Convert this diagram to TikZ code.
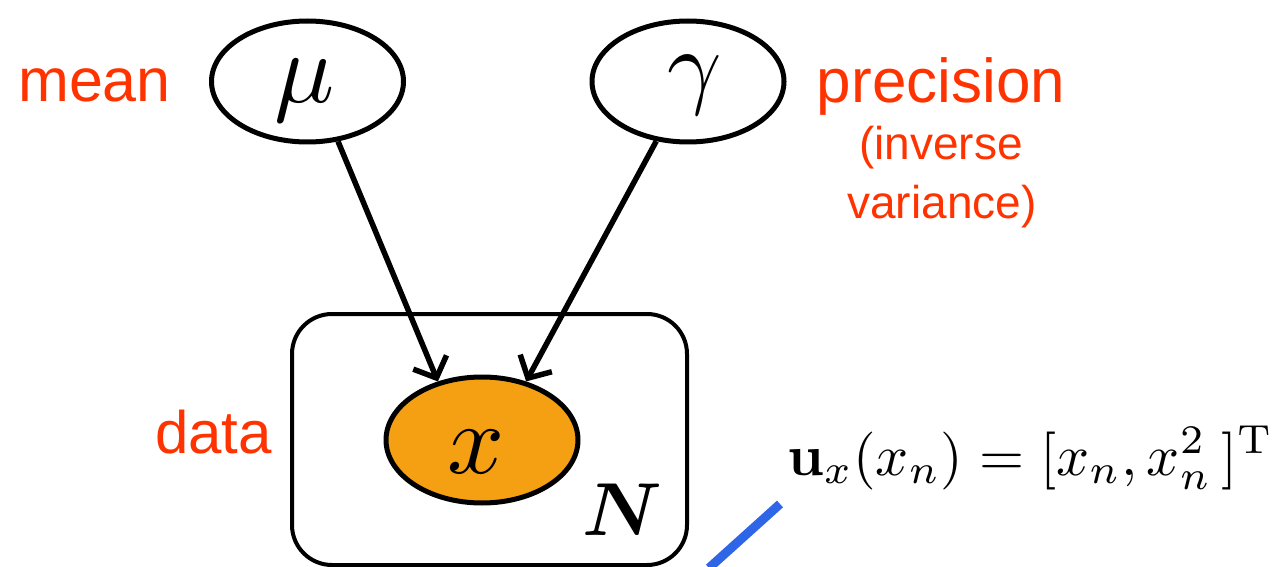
\documentclass[tikz,border=0pt]{standalone}
\usepackage{graphicx}
\usepackage{bm}
\usepackage[no-math]{fontspec}
\setmainfont{Liberation Sans}
\usetikzlibrary{shapes.geometric,arrows.meta}
\definecolor{lblred}{HTML}{FF3300}
\definecolor{obsfill}{HTML}{F4A012}
\definecolor{lineblue}{HTML}{2F66E8}
\tikzset{
  var/.style={ellipse, draw=black, line width=5pt, inner sep=0pt, minimum width=192pt, minimum height=121pt},
  lbl/.style={text=lblred, inner sep=0pt},
  edge/.style={line width=5.5pt, -{Straight Barb[length=17pt,width=36pt,line width=5.5pt]}},
  plate/.style={draw=black, line width=4pt, rounded corners=40pt, inner sep=0pt, minimum width=395pt, minimum height=251pt},
}
\begin{document}
\begin{tikzpicture}[x=1pt,y=-1pt]
\useasboundingbox (0,0) rectangle (1280,567);
\node[plate] (plate) at (489.5,439.5) {};
\node[var] (mu) at (307.5,81.5) {};
\node[anchor=base, inner sep=0pt] (mutext) at (305,103) {\scalebox{10}{$\mu$}};
\node[var] (gam) at (688,81.5) {};
\node[anchor=base, inner sep=0pt] (gamtext) at (695,97) {\scalebox{9.5}{$\gamma$}};
\node[var, fill=obsfill, minimum width=192pt, minimum height=126pt] (obs) at (482,440) {};
\node[anchor=base, inner sep=0pt] (xtext) at (476,473) {\scalebox{10}{$x$}};
\node[anchor=base east, inner sep=0pt] (bigN) at (663,535) {\scalebox{7.5}{$\bm{N}$}};
\draw[edge] (mu.-63) -- (obs.127);
\draw[edge] (gam.-118) -- (obs.53);
\node[lbl, anchor=base west] (mean) at (18,102) {\fontsize{61}{61}\selectfont mean};
\node[lbl, anchor=base] (prec) at (941,103) {\fontsize{62}{62}\selectfont precision};
\node[lbl, anchor=base] (inv) at (941,160) {\fontsize{46}{46}\selectfont (inverse};
\node[lbl, anchor=base] (varl) at (942,218) {\fontsize{46}{46}\selectfont variance)};
\node[lbl, anchor=base east] (data) at (272,453) {\fontsize{60}{60}\selectfont data};
\node[anchor=base west, inner sep=0pt] (formula) at (787,475) {\resizebox{486pt}{!}{$\mathbf{u}_{x}(x_{n}) = [x_{n}, x_{n}^{2}\,]^{\mathrm{T}}$}};
\coordinate (b1) at (780,504);
\coordinate (b2) at (709,568);
\draw[lineblue, line width=9pt] (b1) -- (b2);
\end{tikzpicture}
\end{document}
